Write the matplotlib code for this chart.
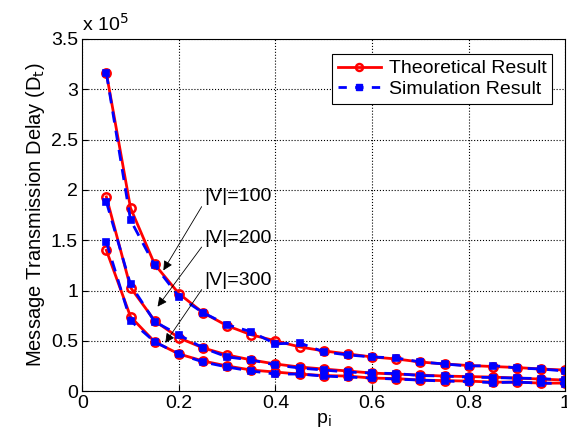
import numpy as np
import matplotlib.pyplot as plt

plt.rcParams['font.family'] = ['Liberation Sans', 'DejaVu Sans']

# p_i values
p = [0.05, 0.10, 0.15, 0.20, 0.25, 0.30, 0.35, 0.40, 0.45, 0.50,
     0.55, 0.60, 0.65, 0.70, 0.75, 0.80, 0.85, 0.90, 0.95, 1.00]

# delays in units of 1e5
theo_100 = [3.16, 1.82, 1.26, 0.97, 0.78, 0.65, 0.56, 0.50, 0.44, 0.40,
            0.37, 0.34, 0.32, 0.29, 0.27, 0.255, 0.245, 0.235, 0.22, 0.21]
sim_100 = [3.16, 1.70, 1.25, 0.94, 0.78, 0.66, 0.59, 0.47, 0.48, 0.39,
           0.36, 0.34, 0.33, 0.29, 0.27, 0.25, 0.255, 0.23, 0.22, 0.20]
theo_200 = [1.93, 1.03, 0.70, 0.53, 0.43, 0.36, 0.31, 0.27, 0.24, 0.22,
            0.20, 0.18, 0.17, 0.16, 0.15, 0.145, 0.14, 0.13, 0.12, 0.11]
sim_200 = [1.88, 1.06, 0.69, 0.56, 0.43, 0.34, 0.31, 0.26, 0.23, 0.21,
           0.19, 0.18, 0.175, 0.155, 0.15, 0.14, 0.135, 0.13, 0.125, 0.11]
theo_300 = [1.40, 0.74, 0.49, 0.37, 0.30, 0.25, 0.21, 0.19, 0.17, 0.155,
            0.15, 0.13, 0.125, 0.11, 0.105, 0.10, 0.09, 0.09, 0.08, 0.08]
sim_300 = [1.48, 0.70, 0.49, 0.37, 0.29, 0.24, 0.20, 0.17, 0.17, 0.15,
           0.14, 0.13, 0.12, 0.11, 0.10, 0.095, 0.085, 0.09, 0.08, 0.075]

labels = ['|V|=100', '|V|=200', '|V|=300']
label_pos = [(0.253, 1.93), (0.253, 1.52), (0.253, 1.10)]
arrow_tip = [(0.168, 1.20), (0.156, 0.84), (0.172, 0.48)]

fig = plt.figure(figsize=(5.67, 4.42), dpi=100)
ax = fig.add_axes([0.145, 0.115, 0.852, 0.797])

for th in [theo_100, theo_200, theo_300]:
    ax.plot(p, th, '-o', color='red', lw=2, ms=6, mfc='none', mew=1.8)
for sm in [sim_100, sim_200, sim_300]:
    ax.plot(p, sm, '--s', color='blue', lw=2, ms=5, mfc='blue', mew=1.2,
            dashes=(4, 3))

# legend handles
ax.plot([], [], '-o', color='red', lw=2, ms=5, mfc='none', mew=1.8,
        label='Theoretical Result')
ax.plot([], [], '--s', color='blue', lw=2, ms=5, mfc='blue', dashes=(3, 3),
        label='Simulation Result')
handles, lbls = ax.get_legend_handles_labels()
leg = ax.legend(handles, lbls, loc='upper right', fontsize=14,
                fancybox=False, edgecolor='black', framealpha=1,
                handlelength=2.2, handletextpad=0.4, borderpad=0.3,
                labelspacing=0.15, bbox_to_anchor=(0.993, 0.985))
leg.get_frame().set_linewidth(0.8)

for lab, xy_t, xy in zip(labels, label_pos, arrow_tip):
    ax.annotate(lab, xy=xy, xytext=xy_t, fontsize=14, ha='left', va='center',
                arrowprops=dict(arrowstyle='-|>', color='black', lw=0.6,
                                mutation_scale=14, relpos=(0, 0.2),
                                shrinkA=0, shrinkB=0))

ax.set_xlim(0, 1)
ax.set_ylim(0, 3.5)
ax.set_xticks([0, 0.2, 0.4, 0.6, 0.8, 1])
ax.set_xticklabels(['0', '0.2', '0.4', '0.6', '0.8', '1'])
ax.set_yticks([0, 0.5, 1, 1.5, 2, 2.5, 3, 3.5])
ax.set_yticklabels(['0', '0.5', '1', '1.5', '2', '2.5', '3', '3.5'])
ax.tick_params(direction='in', labelsize=14, length=4, pad=3)
ax.grid(True, linestyle=':', color='black', lw=0.8)
for s in ax.spines.values():
    s.set_linewidth(0.8)

ax.set_xlabel('p$_\\mathrm{i}$', fontsize=14, labelpad=-1)
ax.set_ylabel('Message Transmission Delay (D$_\\mathrm{t}$)', fontsize=14.5,
              labelpad=3)
ax.text(0.0, 1.012, 'x 10$^5$', transform=ax.transAxes, fontsize=14,
        ha='left', va='bottom')

fig.savefig('out.png', dpi=100)
